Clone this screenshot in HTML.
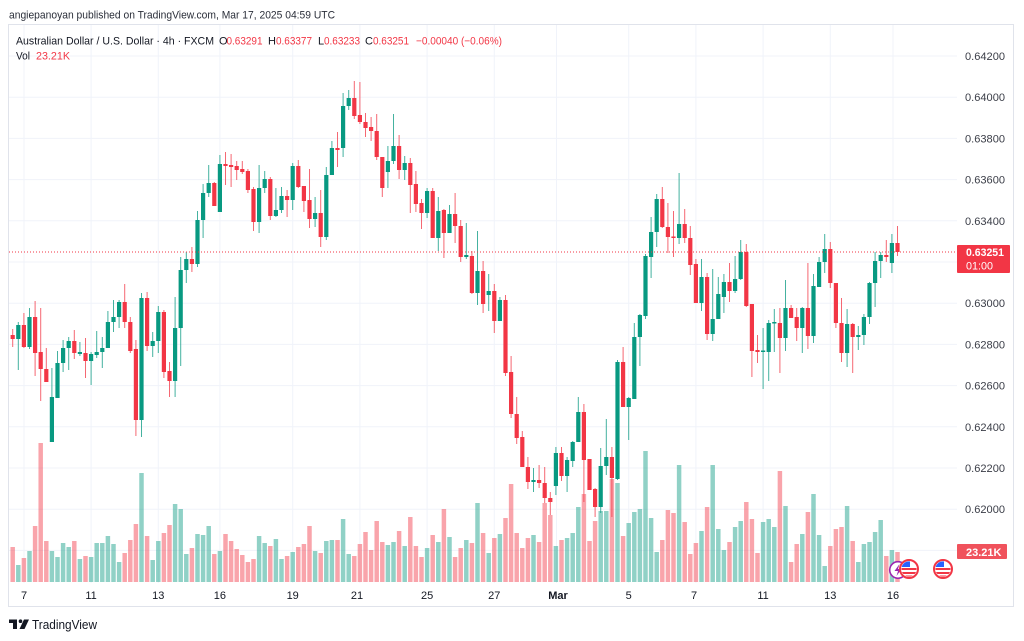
<!DOCTYPE html>
<html><head><meta charset="utf-8"><style>
html,body{margin:0;padding:0;background:#fff;}
svg{display:block;font-family:"Liberation Sans",Arial,sans-serif;}
</style></head><body>
<svg width="1024" height="641" viewBox="0 0 1024 641" xmlns="http://www.w3.org/2000/svg">
<rect width="1024" height="641" fill="#fff"/>
<text x="9" y="18.5" font-size="11" fill="#2a2e39" textLength="326" lengthAdjust="spacingAndGlyphs">angiepanoyan published on TradingView.com, Mar 17, 2025 04:59 UTC</text>
<rect x="8.5" y="24.5" width="1005" height="582" fill="none" stroke="#e0e3eb"/>
<g stroke="#f0f3fa" stroke-width="1">
<line x1="9" x2="957" y1="56" y2="56"/><line x1="9" x2="957" y1="97.2" y2="97.2"/><line x1="9" x2="957" y1="138.4" y2="138.4"/><line x1="9" x2="957" y1="179.6" y2="179.6"/><line x1="9" x2="957" y1="220.8" y2="220.8"/><line x1="9" x2="957" y1="262" y2="262"/><line x1="9" x2="957" y1="303.2" y2="303.2"/><line x1="9" x2="957" y1="344.4" y2="344.4"/><line x1="9" x2="957" y1="385.6" y2="385.6"/><line x1="9" x2="957" y1="426.8" y2="426.8"/><line x1="9" x2="957" y1="468" y2="468"/><line x1="9" x2="957" y1="509.2" y2="509.2"/><line x1="9" x2="957" y1="550.4" y2="550.4"/>
<line x1="24" x2="24" y1="25" y2="583"/><line x1="91.1" x2="91.1" y1="25" y2="583"/><line x1="158.3" x2="158.3" y1="25" y2="583"/><line x1="219.9" x2="219.9" y1="25" y2="583"/><line x1="292.7" x2="292.7" y1="25" y2="583"/><line x1="359.9" x2="359.9" y1="25" y2="583"/><line x1="427.1" x2="427.1" y1="25" y2="583"/><line x1="494.3" x2="494.3" y1="25" y2="583"/><line x1="556.5" x2="556.5" y1="25" y2="583"/><line x1="628.7" x2="628.7" y1="25" y2="583"/><line x1="695.9" x2="695.9" y1="25" y2="583"/><line x1="763.1" x2="763.1" y1="25" y2="583"/><line x1="830.3" x2="830.3" y1="25" y2="583"/><line x1="893" x2="893" y1="25" y2="583"/>
</g>
<text x="16" y="44.5" font-size="11" fill="#131722" textLength="198" lengthAdjust="spacingAndGlyphs">Australian Dollar / U.S. Dollar · 4h · FXCM</text>
<g font-size="11">
<text x="219" y="44.5" fill="#131722">O</text><text x="226.5" y="44.5" fill="#f23645" textLength="36" lengthAdjust="spacingAndGlyphs">0.63291</text>
<text x="268" y="44.5" fill="#131722">H</text><text x="276" y="44.5" fill="#f23645" textLength="36" lengthAdjust="spacingAndGlyphs">0.63377</text>
<text x="318" y="44.5" fill="#131722">L</text><text x="324" y="44.5" fill="#f23645" textLength="36" lengthAdjust="spacingAndGlyphs">0.63233</text>
<text x="365" y="44.5" fill="#131722">C</text><text x="373" y="44.5" fill="#f23645" textLength="36" lengthAdjust="spacingAndGlyphs">0.63251</text>
<text x="416" y="44.5" fill="#f23645" textLength="86" lengthAdjust="spacingAndGlyphs">−0.00040 (−0.06%)</text>
<text x="16" y="59.5" fill="#131722" textLength="14" lengthAdjust="spacingAndGlyphs">Vol</text>
<text x="36" y="59.5" fill="#f23645" textLength="34" lengthAdjust="spacingAndGlyphs">23.21K</text>
</g>
<!-- volume -->
<g transform="translate(10.46 0) scale(5.6 1)">
<path fill="rgba(8,153,129,0.45)" d="M1 565h.8V582h-.8zM3 551h.8V582h-.8zM7 551h.8V582h-.8zM8 557h.8V582h-.8zM9 543h.8V582h-.8zM10 547h.8V582h-.8zM12 559h.8V582h-.8zM14 557h.8V582h-.8zM15 543h.8V582h-.8zM16 543h.8V582h-.8zM17 536h.8V582h-.8zM18 544h.8V582h-.8zM19 562h.8V582h-.8zM23 473h.8V582h-.8zM25 560h.8V582h-.8zM26 541h.8V582h-.8zM29 504h.8V582h-.8zM30 509h.8V582h-.8zM31 554h.8V582h-.8zM33 534h.8V582h-.8zM34 535h.8V582h-.8zM35 526h.8V582h-.8zM37 551h.8V582h-.8zM44 536h.8V582h-.8zM45 543h.8V582h-.8zM47 539h.8V582h-.8zM48 559h.8V582h-.8zM50 552h.8V582h-.8zM54 551h.8V582h-.8zM56 541h.8V582h-.8zM57 540h.8V582h-.8zM59 519h.8V582h-.8zM60 554h.8V582h-.8zM67 545h.8V582h-.8zM68 542h.8V582h-.8zM70 546h.8V582h-.8zM74 548h.8V582h-.8zM76 542h.8V582h-.8zM78 537h.8V582h-.8zM81 540h.8V582h-.8zM83 503h.8V582h-.8zM85 553h.8V582h-.8zM87 534h.8V582h-.8zM93 535h.8V582h-.8zM97 546h.8V582h-.8zM99 538h.8V582h-.8zM100 533h.8V582h-.8zM101 507h.8V582h-.8zM105 511h.8V582h-.8zM106 511h.8V582h-.8zM108 483h.8V582h-.8zM110 523h.8V582h-.8zM111 512h.8V582h-.8zM112 509h.8V582h-.8zM113 451h.8V582h-.8zM114 518h.8V582h-.8zM115 552h.8V582h-.8zM119 465h.8V582h-.8zM123 531h.8V582h-.8zM125 465h.8V582h-.8zM126 529h.8V582h-.8zM127 550h.8V582h-.8zM129 527h.8V582h-.8zM130 521h.8V582h-.8zM134 522h.8V582h-.8zM135 519h.8V582h-.8zM136 527h.8V582h-.8zM138 506h.8V582h-.8zM141 534h.8V582h-.8zM143 494h.8V582h-.8zM144 535h.8V582h-.8zM145 566h.8V582h-.8zM149 506h.8V582h-.8zM151 562h.8V582h-.8zM152 544h.8V582h-.8zM153 542h.8V582h-.8zM154 532h.8V582h-.8zM155 520h.8V582h-.8zM157 550h.8V582h-.8z"/>
<path fill="rgba(242,54,69,0.45)" d="M0 547h.8V582h-.8zM2 558h.8V582h-.8zM4 526h.8V582h-.8zM5 443h.8V582h-.8zM6 541h.8V582h-.8zM11 541h.8V582h-.8zM13 556h.8V582h-.8zM20 553h.8V582h-.8zM21 540h.8V582h-.8zM22 524h.8V582h-.8zM24 536h.8V582h-.8zM27 533h.8V582h-.8zM28 525h.8V582h-.8zM32 548h.8V582h-.8zM36 554h.8V582h-.8zM38 534h.8V582h-.8zM39 541h.8V582h-.8zM40 549h.8V582h-.8zM41 555h.8V582h-.8zM42 562h.8V582h-.8zM43 559h.8V582h-.8zM46 546h.8V582h-.8zM49 556h.8V582h-.8zM51 547h.8V582h-.8zM52 544h.8V582h-.8zM53 526h.8V582h-.8zM55 553h.8V582h-.8zM58 540h.8V582h-.8zM61 556h.8V582h-.8zM62 544h.8V582h-.8zM63 532h.8V582h-.8zM64 550h.8V582h-.8zM65 521h.8V582h-.8zM66 542h.8V582h-.8zM69 531h.8V582h-.8zM71 517h.8V582h-.8zM72 546h.8V582h-.8zM73 557h.8V582h-.8zM75 535h.8V582h-.8zM77 509h.8V582h-.8zM79 557h.8V582h-.8zM80 548h.8V582h-.8zM82 543h.8V582h-.8zM84 533h.8V582h-.8zM86 538h.8V582h-.8zM88 518h.8V582h-.8zM89 484h.8V582h-.8zM90 533h.8V582h-.8zM91 548h.8V582h-.8zM92 538h.8V582h-.8zM94 542h.8V582h-.8zM95 503h.8V582h-.8zM96 515h.8V582h-.8zM98 540h.8V582h-.8zM102 494h.8V582h-.8zM103 541h.8V582h-.8zM104 521h.8V582h-.8zM107 479h.8V582h-.8zM109 536h.8V582h-.8zM116 540h.8V582h-.8zM117 510h.8V582h-.8zM118 513h.8V582h-.8zM120 522h.8V582h-.8zM121 554h.8V582h-.8zM122 543h.8V582h-.8zM124 507h.8V582h-.8zM128 542h.8V582h-.8zM131 502h.8V582h-.8zM132 519h.8V582h-.8zM133 553h.8V582h-.8zM137 471h.8V582h-.8zM139 562h.8V582h-.8zM140 544h.8V582h-.8zM142 512h.8V582h-.8zM146 546h.8V582h-.8zM147 529h.8V582h-.8zM148 527h.8V582h-.8zM150 541h.8V582h-.8zM156 556h.8V582h-.8zM158 552h.8V582h-.8z"/>
</g>
<!-- wicks -->
<g transform="translate(12.2 0) scale(5.6 1)" opacity="0.75">
<path fill="#089981" d="M1 322h.18V370h-.18zM3 308h.18V349h-.18zM7 368h.18V442h-.18zM8 351h.18V398h-.18zM9 340h.18V372h-.18zM10 337h.18V370h-.18zM12 342h.18V356h-.18zM14 352h.18V385h-.18zM15 331h.18V358h-.18zM16 337h.18V368h-.18zM17 311h.18V348h-.18zM18 300h.18V332h-.18zM19 300h.18V328h-.18zM23 293h.18V437h-.18zM25 332h.18V357h-.18zM26 306h.18V353h-.18zM29 297h.18V397h-.18zM30 257h.18V366h-.18zM31 252h.18V283h-.18zM33 211h.18V267h-.18zM34 184h.18V238h-.18zM35 165h.18V197h-.18zM37 155h.18V212h-.18zM44 165h.18V233h-.18zM45 171h.18V193h-.18zM47 188h.18V217h-.18zM48 187h.18V213h-.18zM50 163h.18V210h-.18zM54 197h.18V227h-.18zM56 167h.18V240h-.18zM57 141h.18V175h-.18zM59 93h.18V157h-.18zM60 90h.18V110h-.18zM67 146h.18V188h-.18zM68 114h.18V164h-.18zM70 156h.18V180h-.18zM74 188h.18V218h-.18zM76 197h.18V251h-.18zM78 205h.18V233h-.18zM81 223h.18V259h-.18zM83 231h.18V305h-.18zM85 274h.18V311h-.18zM87 297h.18V321h-.18zM93 468h.18V492h-.18zM97 447h.18V495h-.18zM99 457h.18V492h-.18zM100 441h.18V467h-.18zM101 397h.18V442h-.18zM105 448h.18V513h-.18zM106 419h.18V475h-.18zM108 360h.18V480h-.18zM110 397h.18V440h-.18zM111 323h.18V399h-.18zM112 314h.18V366h-.18zM113 254h.18V319h-.18zM114 217h.18V278h-.18zM115 194h.18V247h-.18zM119 173h.18V244h-.18zM123 259h.18V311h-.18zM125 269h.18V341h-.18zM126 277h.18V319h-.18zM127 274h.18V313h-.18zM129 256h.18V293h-.18zM130 240h.18V280h-.18zM134 328h.18V389h-.18zM135 320h.18V381h-.18zM136 309h.18V352h-.18zM138 280h.18V351h-.18zM141 307h.18V353h-.18zM143 274h.18V343h-.18zM144 257h.18V287h-.18zM145 234h.18V273h-.18zM149 309h.18V367h-.18zM151 326h.18V350h-.18zM152 314h.18V345h-.18zM153 282h.18V324h-.18zM154 252h.18V307h-.18zM155 252h.18V278h-.18zM157 234h.18V273h-.18z"/>
<path fill="#f23645" d="M0 329h.18V347h-.18zM2 313h.18V348h-.18zM4 301h.18V376h-.18zM5 308h.18V401h-.18zM6 348h.18V382h-.18zM11 330h.18V359h-.18zM13 338h.18V378h-.18zM20 284h.18V328h-.18zM21 317h.18V353h-.18zM22 340h.18V436h-.18zM24 292h.18V351h-.18zM27 310h.18V378h-.18zM28 362h.18V397h-.18zM32 247h.18V272h-.18zM36 182h.18V206h-.18zM38 152h.18V185h-.18zM39 154h.18V187h-.18zM40 161h.18V180h-.18zM41 161h.18V174h-.18zM42 169h.18V193h-.18zM43 187h.18V231h-.18zM46 177h.18V220h-.18zM49 190h.18V217h-.18zM51 160h.18V188h-.18zM52 186h.18V212h-.18zM53 169h.18V228h-.18zM55 190h.18V247h-.18zM58 132h.18V167h-.18zM61 81h.18V119h-.18zM62 82h.18V124h-.18zM63 113h.18V137h-.18zM64 117h.18V141h-.18zM65 114h.18V160h-.18zM66 157h.18V197h-.18zM69 135h.18V179h-.18zM71 158h.18V213h-.18zM72 171h.18V212h-.18zM73 199h.18V229h-.18zM75 188h.18V238h-.18zM77 209h.18V258h-.18zM79 193h.18V243h-.18zM80 220h.18V262h-.18zM82 251h.18V294h-.18zM84 261h.18V313h-.18zM86 284h.18V333h-.18zM88 295h.18V376h-.18zM89 356h.18V418h-.18zM90 397h.18V444h-.18zM91 431h.18V467h-.18zM92 457h.18V489h-.18zM94 465h.18V488h-.18zM95 467h.18V503h-.18zM96 492h.18V515h-.18zM98 447h.18V481h-.18zM102 404h.18V502h-.18zM103 459h.18V490h-.18zM104 488h.18V517h-.18zM107 447h.18V517h-.18zM109 347h.18V407h-.18zM116 187h.18V228h-.18zM117 203h.18V253h-.18zM118 211h.18V257h-.18zM120 209h.18V243h-.18zM121 226h.18V275h-.18zM122 259h.18V303h-.18zM124 273h.18V340h-.18zM128 263h.18V302h-.18zM131 244h.18V307h-.18zM132 304h.18V377h-.18zM133 335h.18V363h-.18zM137 308h.18V373h-.18zM139 305h.18V318h-.18zM140 308h.18V341h-.18zM142 263h.18V349h-.18zM146 242h.18V288h-.18zM147 283h.18V328h-.18zM148 298h.18V362h-.18zM150 323h.18V373h-.18zM156 240h.18V262h-.18zM158 226h.18V256h-.18z"/>
</g>
<!-- bodies -->
<g transform="translate(10.6 0) scale(5.6 1)">
<path fill="#089981" d="M1 325h.75V339h-.75zM3 317h.75V347h-.75zM7 397h.75V442h-.75zM8 363h.75V398h-.75zM9 348h.75V363h-.75zM10 341h.75V348h-.75zM12 352h.75V354h-.75zM14 354h.75V361h-.75zM15 352h.75V355h-.75zM16 348h.75V352h-.75zM17 322h.75V348h-.75zM18 317h.75V322h-.75zM19 302h.75V317h-.75zM23 298h.75V420h-.75zM25 341h.75V346h-.75zM26 312h.75V341h-.75zM29 328h.75V381h-.75zM30 270h.75V328h-.75zM31 259h.75V270h-.75zM33 220h.75V264h-.75zM34 193h.75V220h-.75zM35 183h.75V193h-.75zM37 164h.75V212h-.75zM44 188h.75V222h-.75zM45 179h.75V188h-.75zM47 210h.75V216h-.75zM48 196h.75V210h-.75zM50 166h.75V200h-.75zM54 213h.75V219h-.75zM56 175h.75V237h-.75zM57 148h.75V175h-.75zM59 106h.75V148h-.75zM60 98h.75V106h-.75zM67 161h.75V172h-.75zM68 146h.75V161h-.75zM70 163h.75V170h-.75zM74 191h.75V213h-.75zM76 211h.75V238h-.75zM78 214h.75V233h-.75zM81 255h.75V257h-.75zM83 271h.75V293h-.75zM85 291h.75V295h-.75zM87 300h.75V321h-.75zM93 480h.75V482h-.75zM97 453h.75V486h-.75zM99 460h.75V476h-.75zM100 442h.75V461h-.75zM101 412h.75V442h-.75zM105 466h.75V507h-.75zM106 457h.75V466h-.75zM108 362h.75V479h-.75zM110 398h.75V407h-.75zM111 337h.75V399h-.75zM112 315h.75V337h-.75zM113 256h.75V316h-.75zM114 232h.75V257h-.75zM115 199h.75V232h-.75zM119 224h.75V238h-.75zM123 277h.75V303h-.75zM125 319h.75V334h-.75zM126 294h.75V319h-.75zM127 282h.75V297h-.75zM129 279h.75V291h-.75zM130 252h.75V279h-.75zM134 350.5h.75V352h-.75zM135 323h.75V352h-.75zM136 322h.75V323.5h-.75zM138 308h.75V338h-.75zM141 308h.75V328h-.75zM143 286h.75V336h-.75zM144 262h.75V287h-.75zM145 249h.75V262h-.75zM149 324h.75V353h-.75zM151 335h.75V337h-.75zM152 317h.75V335h-.75zM153 283h.75V317h-.75zM154 261h.75V283h-.75zM155 255h.75V261h-.75zM157 243h.75V263h-.75z"/>
<path fill="#f23645" d="M0 335h.75V339h-.75zM2 325h.75V347h-.75zM4 317h.75V353h-.75zM5 352h.75V369h-.75zM6 369h.75V382h-.75zM11 341h.75V353h-.75zM13 353h.75V361h-.75zM20 302h.75V322h-.75zM21 322h.75V351h-.75zM22 349h.75V420h-.75zM24 298h.75V346h-.75zM27 312h.75V372h-.75zM28 371h.75V381h-.75zM32 259h.75V264h-.75zM36 183h.75V206h-.75zM38 164h.75V166h-.75zM39 165h.75V167h-.75zM40 166h.75V170h-.75zM41 169h.75V172h-.75zM42 171h.75V190h-.75zM43 189h.75V222h-.75zM46 179h.75V216h-.75zM49 196h.75V200h-.75zM51 166h.75V187h-.75zM52 186h.75V201h-.75zM53 200h.75V219h-.75zM55 213h.75V237h-.75zM58 148h.75V150h-.75zM61 98h.75V116h-.75zM62 115h.75V122h-.75zM63 122h.75V128h-.75zM64 127h.75V131h-.75zM65 131h.75V157h-.75zM66 157h.75V188h-.75zM69 146h.75V170h-.75zM71 163h.75V185h-.75zM72 184h.75V204h-.75zM73 203h.75V213h-.75zM75 191h.75V238h-.75zM77 210h.75V233h-.75zM79 214h.75V226h-.75zM80 226h.75V257h-.75zM82 256h.75V293h-.75zM84 271h.75V304h-.75zM86 291h.75V321h-.75zM88 300h.75V373h-.75zM89 372h.75V414h-.75zM90 414h.75V438h-.75zM91 437h.75V467h-.75zM92 467h.75V482h-.75zM94 480h.75V483h-.75zM95 483h.75V498h-.75zM96 498h.75V502h-.75zM98 453h.75V476h-.75zM102 412h.75V460h-.75zM103 459h.75V490h-.75zM104 489h.75V507h-.75zM107 457h.75V478h-.75zM109 362h.75V407h-.75zM116 199h.75V227h-.75zM117 227h.75V237h-.75zM118 236.5h.75V238h-.75zM120 224h.75V238h-.75zM121 238h.75V265h-.75zM122 264h.75V303h-.75zM124 277h.75V334h-.75zM128 282h.75V291h-.75zM131 252h.75V306h-.75zM132 304h.75V351h-.75zM133 350h.75V352h-.75zM137 323h.75V338h-.75zM139 308h.75V318h-.75zM140 317h.75V328h-.75zM142 308h.75V336h-.75zM146 249h.75V283h-.75zM147 283h.75V323h-.75zM148 323h.75V353h-.75zM150 324h.75V337h-.75zM156 255h.75V257h-.75zM158 243h.75V252h-.75z"/>
</g>
<line x1="9" x2="957" y1="252" y2="252" stroke="#f23645" stroke-width="1" stroke-dasharray="1 2"/>
<!-- price axis -->
<g font-size="11" fill="#3a3d47">
<text x="965" y="60" textLength="40" lengthAdjust="spacingAndGlyphs">0.64200</text>
<text x="965" y="101.2" textLength="40" lengthAdjust="spacingAndGlyphs">0.64000</text>
<text x="965" y="142.4" textLength="40" lengthAdjust="spacingAndGlyphs">0.63800</text>
<text x="965" y="183.6" textLength="40" lengthAdjust="spacingAndGlyphs">0.63600</text>
<text x="965" y="224.8" textLength="40" lengthAdjust="spacingAndGlyphs">0.63400</text>
<text x="965" y="307.2" textLength="40" lengthAdjust="spacingAndGlyphs">0.63000</text>
<text x="965" y="348.4" textLength="40" lengthAdjust="spacingAndGlyphs">0.62800</text>
<text x="965" y="389.6" textLength="40" lengthAdjust="spacingAndGlyphs">0.62600</text>
<text x="965" y="430.8" textLength="40" lengthAdjust="spacingAndGlyphs">0.62400</text>
<text x="965" y="472" textLength="40" lengthAdjust="spacingAndGlyphs">0.62200</text>
<text x="965" y="513.2" textLength="40" lengthAdjust="spacingAndGlyphs">0.62000</text>
</g>
<rect x="957" y="245" width="53" height="28" rx="1" fill="#f23645"/>
<text x="966" y="256" font-size="11" font-weight="bold" fill="#fff" textLength="38" lengthAdjust="spacingAndGlyphs">0.63251</text>
<text x="966" y="269.3" font-size="11" fill="#fff" textLength="27" lengthAdjust="spacingAndGlyphs">01:00</text>
<rect x="957" y="544" width="50" height="15" rx="1" fill="#f0525c"/>
<text x="966" y="556" font-size="11" font-weight="bold" fill="#fff" textLength="35.5" lengthAdjust="spacingAndGlyphs">23.21K</text>
<!-- event icons -->
<circle cx="898" cy="570" r="8.3" fill="#fff" stroke="#9c27b0" stroke-width="1.6"/>
<path d="M899.5 564 L894.5 571 L898 571 L896.5 576 L901.5 569 L898 569 Z" fill="#9c27b0"/>
<defs><clipPath id="fc"><circle cx="0" cy="0" r="7.6"/></clipPath></defs>
<g transform="translate(909 569)">
<circle r="9" fill="#fff" stroke="#f23645" stroke-width="2"/>
<g clip-path="url(#fc)"><rect x="-8" y="-8" width="16" height="16" fill="#fff"/><rect x="-8" y="-1" width="16" height="2" fill="#f23645"/><rect x="-8" y="3" width="16" height="2" fill="#f23645"/><rect x="-8" y="6.5" width="16" height="2" fill="#f23645"/><rect x="-8" y="-8" width="9" height="6" fill="#2962ff"/></g>
</g>
<g transform="translate(943 569)">
<circle r="9" fill="#fff" stroke="#f23645" stroke-width="2"/>
<g clip-path="url(#fc)"><rect x="-8" y="-8" width="16" height="16" fill="#fff"/><rect x="-8" y="-1" width="16" height="2" fill="#f23645"/><rect x="-8" y="3" width="16" height="2" fill="#f23645"/><rect x="-8" y="6.5" width="16" height="2" fill="#f23645"/><rect x="-8" y="-8" width="9" height="6" fill="#2962ff"/></g>
</g>
<!-- time axis -->
<g font-size="11" fill="#131722" text-anchor="middle">
<text x="24" y="599">7</text><text x="91.1" y="599">11</text><text x="158.3" y="599">13</text><text x="219.9" y="599">16</text><text x="292.7" y="599">19</text><text x="357" y="599">21</text><text x="427.1" y="599">25</text><text x="494.3" y="599">27</text><text x="558" y="599" font-weight="bold">Mar</text><text x="628.7" y="599">5</text><text x="694" y="599">7</text><text x="763.1" y="599">11</text><text x="830.3" y="599">13</text><text x="893" y="599">16</text>
</g>
<!-- logo -->
<g fill="#131722">
<rect x="9" y="619.5" width="8" height="3.5"/>
<rect x="13" y="619.5" width="4" height="9.5"/>
<circle cx="20.5" cy="621.2" r="1.8"/>
<polygon points="24,619.5 29,619.5 24.5,629 19.5,629"/>
</g>
<text x="32" y="629" font-size="12.5" fill="#131722" textLength="65" lengthAdjust="spacingAndGlyphs">TradingView</text>
</svg>
</body></html>
